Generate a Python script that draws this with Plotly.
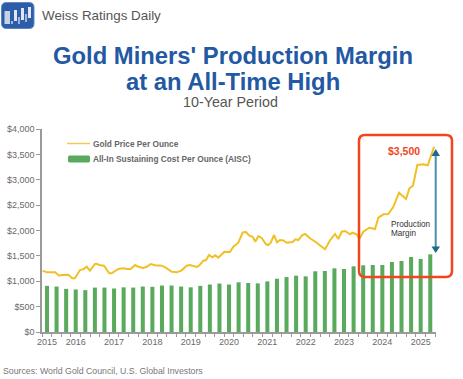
import plotly.graph_objects as go

# Quarterly AISC bars, Q1 2015 .. Q1 2025 (quarter index 0..40)
aisc_values = [909, 896, 850, 838, 825, 875, 875, 857, 880, 875, 896, 890, 916, 916, 896, 880, 909, 935, 955, 935,
               979, 965, 958, 998, 1050, 1083, 1110, 1097, 1196, 1202, 1255, 1241, 1294, 1314, 1320, 1320, 1379, 1399, 1478, 1438, 1530]
# Gold price: position in quarter index, and value
gold_pos = [-0.45, -0.03, 0.84, 1.28, 1.53, 2.22, 2.64, 2.92, 3.44, 3.79, 4.14, 4.49, 5.01, 5.25, 5.53, 5.95, 6.50, 6.75,
            7.44, 7.96, 8.38, 8.74, 9.19, 9.53, 10.05, 10.41, 10.82, 11.27, 11.97, 12.39, 13.02, 13.54, 14.06, 14.58, 14.93,
            15.63, 15.87, 16.32, 16.60, 16.91, 17.25, 17.57, 17.88, 18.51, 19.10, 19.45, 19.97, 20.43, 20.77, 21.12, 21.47,
            21.74, 22.06, 22.41, 22.86, 23.10, 23.35, 23.70, 24.01, 24.32, 24.67, 25.02, 25.65, 25.92, 26.23, 26.65, 26.93,
            27.45, 28.15, 29.02, 29.51, 30.06, 30.41, 30.76, 31.11, 31.63, 31.87, 32.33, 32.60, 33.02, 33.64, 34.24, 34.58,
            35.11, 35.63, 36.15, 36.74, 37.47, 37.82, 38.20, 38.65, 39.28, 39.74, 40.40]
gold_values = [1208, 1176, 1176, 1109, 1123, 1129, 1058, 1058, 1221, 1235, 1286, 1208, 1340, 1340, 1314, 1306, 1156, 1156,
               1241, 1255, 1241, 1241, 1320, 1286, 1261, 1286, 1340, 1314, 1306, 1267, 1188, 1176, 1215, 1306, 1320,
               1280, 1306, 1405, 1418, 1517, 1472, 1511, 1464, 1582, 1576, 1680, 1759, 1964, 1970, 1897, 1877,
               1779, 1891, 1852, 1728, 1714, 1759, 1911, 1767, 1812, 1806, 1759, 1773, 1826, 1812, 1911, 1931,
               1846, 1759, 1629, 1799, 1931, 1832, 1976, 1990, 1925, 1956, 1925, 1832, 1976, 2055, 2029, 2252,
               2319, 2325, 2468, 2744, 2620, 2831, 2882, 3290, 3304, 3284, 3650]
year_ticks = [0, 3, 7, 11, 15, 19, 23, 27, 31, 35, 39]
year_labels = ["2015", "2016", "2017", "2018", "2019", "2020", "2021", "2022", "2023", "2024", "2025"]
y_ticks = [0, 500, 1000, 1500, 2000, 2500, 3000, 3500, 4000]
y_labels = ["$0", "$500", "$1,000", "$1,500", "$2,000", "$2,500", "$3,000", "$3,500", "$4,000"]

W, H = 463, 379
L, R, T, B = 42, 436, 129, 332
FONT = "Liberation Sans"
GREY = "#6a6a6a"
RED = "#f2441d"


def px(x):
    return (x - L) / (R - L)


def py(y):
    return (B - y) / (B - T)


def path(points, close=False):
    d = "M" + " L".join(f"{px(x):.5f},{py(y):.5f}" for x, y in points)
    return d + (" Z" if close else "")


def rrect(x0, y0, x1, y1, r):
    c = lambda x, y: f"{px(x):.5f},{py(y):.5f}"
    return (f"M{c(x0 + r, y0)} L{c(x1 - r, y0)} Q{c(x1, y0)} {c(x1, y0 + r)} L{c(x1, y1 - r)} Q{c(x1, y1)} {c(x1 - r, y1)} "
            f"L{c(x0 + r, y1)} Q{c(x0, y1)} {c(x0, y1 - r)} L{c(x0, y0 + r)} Q{c(x0, y0)} {c(x0 + r, y0)} Z")


def shape(d, fill=None, line=None, width=0, layer="above"):
    return dict(type="path", xref="paper", yref="paper", path=d, layer=layer,
                fillcolor=fill or "rgba(0,0,0,0)", line=dict(color=line or "rgba(0,0,0,0)", width=width))


def text(t, x, y, size, color, anchor="left", bold=False):
    return dict(text=f"<b>{t}</b>" if bold else t, xref="paper", yref="paper", x=px(x), y=py(y), showarrow=False,
                xanchor=anchor, yanchor="middle", font=dict(family=FONT, size=size, color=color))


fig = go.Figure()
fig.add_bar(x=list(range(len(aisc_values))), y=aisc_values, width=0.42, marker=dict(color="#5aaa5e", line_width=0),
            name="All-In Sustaining Cost Per Ounce (AISC)")
fig.add_scatter(x=gold_pos, y=gold_values, mode="lines", line=dict(color="#f0c024", width=2),
                name="Gold Price Per Ounce")

shapes = [
    # legend keys
    shape(path([(67, 143.5), (90, 143.5)]), line="#f0c95a", width=1.5),
    shape(rrect(68, 155.5, 90, 162.5, 1.5), fill="#5aaa5e"),
    # callout
    shape(rrect(359, 135, 452, 277, 6), line=RED, width=2.5),
    # arrow
    shape(path([(435.7, 155), (435.7, 248)]), line="#4b8dab", width=2),
    shape(path([(435.7, 149), (431.5, 156), (440, 156)], True), fill="#1d6a8c"),
    shape(path([(435.7, 253), (431.5, 246.5), (440, 246.5)], True), fill="#1d6a8c"),
    # logo
    shape(rrect(1.5, 2.5, 34, 28.5, 5), fill="#2d5da8", line="#5a86c4", width=1),
    shape(path([(4.5, 11), (10, 11), (10, 24), (4.5, 24)], True), fill="#c5d3e8"),
    shape(path([(11, 21), (13, 21), (13, 24), (11, 24)], True), fill="#9fb6d8"),
    shape(path([(14, 10), (17, 10), (17, 21), (14, 21)], True), fill="#dfe7f3"),
    shape(path([(18, 17), (20, 17), (20, 24), (18, 24)], True), fill="#9fb6d8"),
    shape(path([(21, 8), (24, 8), (24, 20), (21, 20)], True), fill="#dfe7f3"),
    shape(path([(25, 14), (27, 14), (27, 22), (25, 22)], True), fill="#9fb6d8"),
    shape(path([(28, 7), (31, 7), (31, 18), (28, 18)], True), fill="#dfe7f3"),
]

annotations = [
    text("Weiss Ratings Daily", 40, 16, 13.4, "#555555"),
    text("Gold Miners' Production Margin", 233, 55, 23.8, "#2358a3", "center", True),
    text("at an All-Time High", 233, 81, 23.8, "#2358a3", "center", True),
    text("10-Year Period", 230, 102, 14.3, "#555555", "center"),
    text("Gold Price Per Ounce", 91, 143.5, 8.3, "#666666", bold=True),
    text("All-In Sustaining Cost Per Ounce (AISC)", 91, 159, 8.3, "#666666", bold=True),
    text("$3,500", 404, 151, 10.5, RED, "center", True),
    text("Production", 389, 224.5, 8.2, "#333333"),
    text("Margin", 389, 233.5, 8.2, "#333333"),
    text("Sources: World Gold Council, U.S. Global Investors", 1, 371, 8.75, "#777777"),
]

fig.update_layout(
    width=W, height=H, margin=dict(l=L, r=W - R, t=T, b=H - B, pad=0, autoexpand=False),
    paper_bgcolor="white", plot_bgcolor="white", showlegend=False, barmode="overlay",
    font=dict(family=FONT, size=9, color=GREY),
    shapes=shapes, annotations=annotations,
    xaxis=dict(range=[-0.52, 40.6], tickmode="array", tickvals=year_ticks, ticktext=year_labels, ticks="", showgrid=False,
               zeroline=False, showline=True, linecolor="#9a9a9a", linewidth=1.5, tickfont=dict(size=9, color=GREY),
               minor=dict(ticks="outside", ticklen=3, tickwidth=1, tickcolor="#9a9a9a", tick0=-0.5, dtick=1, showgrid=False)),
    yaxis=dict(range=[0, 4000], tickmode="array", tickvals=y_ticks, ticktext=y_labels, ticks="outside", ticklen=4, tickwidth=1,
               tickcolor="#9a9a9a", showgrid=False, zeroline=False, showline=True, linecolor="#9a9a9a", linewidth=1.5,
               tickfont=dict(size=9, color=GREY)),
)
fig.write_html("out.html", config=dict(displayModeBar=False),
               post_script="document.body.style.margin='0';")
